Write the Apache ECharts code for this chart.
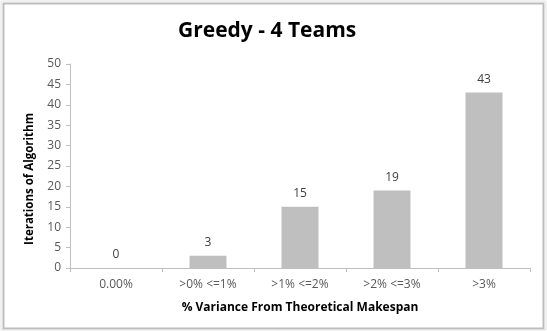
<!DOCTYPE html>
<html>
<head>
<meta charset="utf-8">
<style>
  html, body { margin: 0; padding: 0; background: #fff; }
  #chart { width: 547px; height: 331px; }
</style>
<script src="https://cdn.jsdelivr.net/npm/echarts@6/dist/echarts.min.js"></script>
</head>
<body>
<div id="chart"></div>
<script>
// Variance buckets and how many algorithm runs landed in each
const categories = ['0.00%', '>0% <=1%', '>1% <=2%', '>2% <=3%', '>3%'];
const iterations = [0, 3, 15, 19, 43];
const yTicks = [0, 5, 10, 15, 20, 25, 30, 35, 40, 45, 50];

const titleText = 'Greedy - 4 Teams';
const xAxisTitle = '% Variance From Theoretical Makespan';
const yAxisTitle = 'Iterations of Algorithm';

const FONT = '"Open Sans", "Liberation Sans", sans-serif';
const chart = echarts.init(document.getElementById('chart'), null, { renderer: 'canvas' });

chart.setOption({
  animation: false,
  backgroundColor: '#ffffff',
  title: {
    text: titleText,
    left: 173, top: 16,
    textStyle: { fontFamily: FONT, fontWeight: 'bold', fontSize: 21, color: '#000' }
  },
  graphic: [
    // chart frame
    { type: 'rect', shape: { x: 3.5, y: 3.5, width: 540, height: 325 },
      style: { fill: 'none', stroke: '#bdbdbd', lineWidth: 2 }, silent: true },
    { type: 'rect', shape: { x: 1, y: 1, width: 545, height: 329 },
      style: { fill: 'none', stroke: '#e2e2e2', lineWidth: 1 }, silent: true }
  ],
  grid: { left: 70, right: 17, top: 64, bottom: 63 },
  xAxis: {
    type: 'category',
    data: categories,
    name: xAxisTitle,
    nameLocation: 'middle',
    nameGap: 34,
    nameTextStyle: { fontFamily: FONT, fontWeight: 'bold', fontSize: 12, color: '#000' },
    axisLine: { lineStyle: { color: '#bfbfbf', width: 1 } },
    axisTick: { show: true, alignWithLabel: false, length: 4, lineStyle: { color: '#bfbfbf' } },
    axisLabel: { fontFamily: FONT, fontSize: 12, color: '#595959', margin: 11 }
  },
  yAxis: {
    type: 'value',
    min: yTicks[0], max: yTicks[yTicks.length - 1], interval: 5,
    name: yAxisTitle,
    nameLocation: 'middle',
    nameGap: 34,
    nameTextStyle: { fontFamily: FONT, fontWeight: 'bold', fontSize: 11.5, color: '#000', padding: [0, 26, 0, 0] },
    axisLine: { show: true, lineStyle: { color: '#bfbfbf', width: 1 } },
    axisTick: { show: true, length: 4, lineStyle: { color: '#bfbfbf' } },
    splitLine: { show: false },
    axisLabel: { fontFamily: FONT, fontSize: 12, color: '#595959', margin: 9 }
  },
  series: [{
    type: 'bar',
    data: iterations,
    barWidth: 37,
    itemStyle: { color: '#bfbfbf' },
    label: {
      show: true, position: 'top', distance: 7,
      fontFamily: FONT, fontSize: 12, color: '#404040'
    }
  }]
});
</script>
</body>
</html>
